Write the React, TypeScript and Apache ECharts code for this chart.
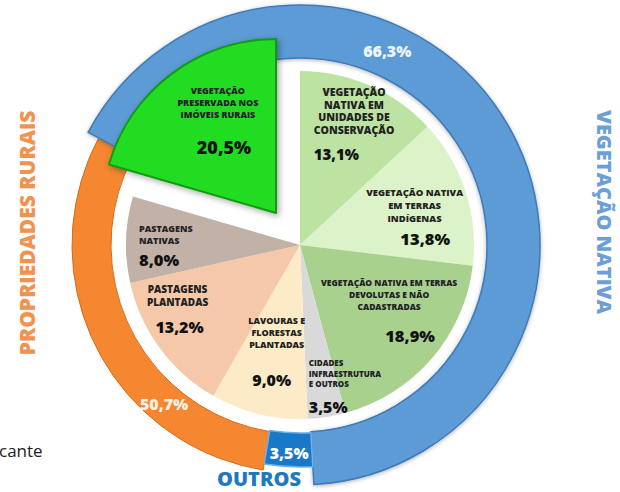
import { useEffect, useRef } from 'react';
import * as echarts from 'echarts';

// ---- data ----
const categories = [
  'VEGETAÇÃO\nNATIVA EM\nUNIDADES DE\nCONSERVAÇÃO',
  'VEGETAÇÃO NATIVA\nEM TERRAS\nINDÍGENAS',
  'VEGETAÇÃO NATIVA EM TERRAS\nDEVOLUTAS E NÃO\nCADASTRADAS',
  'CIDADES\nINFRAESTRUTURA\nE OUTROS',
  'LAVOURAS E\nFLORESTAS\nPLANTADAS',
  'PASTAGENS\nPLANTADAS',
  'PASTAGENS\nNATIVAS',
  'VEGETAÇÃO\nPRESERVADA NOS\nIMÓVEIS RURAIS',
];
const values = [13.1, 13.8, 18.9, 3.5, 9.0, 13.2, 8.0, 20.5];
const groupNames = ['VEGETAÇÃO NATIVA', 'OUTROS', 'PROPRIEDADES RURAIS'];
const groupValues = [66.3, 3.5, 50.7];
const sideTitles = ['PROPRIEDADES RURAIS', 'VEGETAÇÃO NATIVA', 'OUTROS'];
const footnote = 'cante';

// ---- styles ----
const sliceColors = ['#bde3a3', '#dcf2c8', '#a9d18e', '#d9d9d9', '#fdebc7', '#f5c8aa', '#c2b1a7', '#21dc21'];
const groupColors = ['#5b9bd5', '#1a78c8', '#f4872f'];
const FONT = '"Open Sans", "Noto Sans", sans-serif';
const CX = 300;
const CY = 245;
const titleSizes = [10.5, 9.5, 8.5, 8, 9, 10, 9, 9];
const titleLineH = [12.7, 13, 12, 10.5, 12, 13, 12, 12];
const valueSizes = [15, 16.5, 16.5, 16, 16, 16, 16.5, 18];
const valueLineH = [35, 27, 46, 35.5, 60, 37, 26, 54];
const blockAlign = ['center', 'center', 'center', 'left', 'center', 'center', 'left', 'center'];
const valueAlign = ['left', 'right', 'center', 'left', 'center', 'center', 'left', 'center'];
const valuePad = [[0, 0, 0, 0], [0, 13, 0, 0], [0, 0, 0, 42], [0, 0, 0, 0], [0, 10, 0, 0], [0, 0, 0, 4], [0, 0, 0, 0], [0, 0, 0, 12]];
const labelNudge = [[18, -34], [29, 2], [21, 14], [-5, 57], [-2, 30], [-50, 16], [-71, 5], [-4, -12]];
const ringStart = 152;

const fmt = (v: number) => v.toFixed(1).replace('.', ',') + '%';
const norm = (a: number) => ((a % 360) + 360) % 360;

export default function App() {
  const ref = useRef<HTMLDivElement>(null);
  useEffect(() => {
    const chart = echarts.init(ref.current!, null, { renderer: 'svg' });
    const rich: any = {};
    values.forEach((_, i) => {
      rich['t' + i] = {
        fontFamily: FONT, fontWeight: 800, fontSize: titleSizes[i], lineHeight: titleLineH[i],
        color: '#222222', align: blockAlign[i],
      };
      rich['v' + i] = {
        fontFamily: FONT, fontWeight: 800, fontSize: valueSizes[i], lineHeight: valueLineH[i],
        color: '#121212', align: valueAlign[i], padding: valuePad[i],
      };
    });
    const outrosStart = norm(ringStart - groupValues[0] * 3.6);
    const orangeStart = norm(outrosStart - groupValues[1] * 3.6);
    const blank = (v: number) => ({
      value: v, name: '', itemStyle: { color: 'rgba(0,0,0,0)', borderWidth: 0 }, label: { show: false },
    });
    const ringLabel = {
      show: true, position: 'inside', color: '#ffffff', fontFamily: FONT, fontWeight: 800, fontSize: 16,
      formatter: (p: any) => fmt(p.value),
    };
    chart.setOption({
      animation: false,
      backgroundColor: '#ffffff',
      series: [
        {
          type: 'pie', z: 1, silent: true, center: [CX, CY], radius: [189, 228],
          startAngle: orangeStart, clockwise: true, emphasis: { disabled: true },
          label: { ...ringLabel, color: '#fff1e4' }, labelLine: { show: false },
          labelLayout: (p: any) => (p.dataIndex === 0 ? { dx: 72, dy: 198 } : {}),
          data: [
            { value: groupValues[2], name: groupNames[2], itemStyle: { color: groupColors[2], borderColor: '#d8691d', borderWidth: 1 } },
            blank(100 - groupValues[2]),
          ],
        },
        {
          type: 'pie', z: 2, silent: true, center: [CX, CY], radius: [187, 240],
          startAngle: ringStart, clockwise: true, emphasis: { disabled: true },
          label: { ...ringLabel, color: '#eef5fc' }, labelLine: { show: false },
          labelLayout: (p: any) => (p.dataIndex === 0 ? { dx: -95, dy: -77 } : {}),
          data: [
            {
              value: groupValues[0], name: groupNames[0],
              itemStyle: { color: groupColors[0], borderColor: '#3f7ab8', borderWidth: 1.5, shadowBlur: 4, shadowColor: 'rgba(0,0,0,0.3)', shadowOffsetY: 1 },
            },
            blank(100 - groupValues[0]),
          ],
        },
        {
          type: 'pie', z: 3, silent: true, center: [CX, CY], radius: [188, 222],
          startAngle: outrosStart, clockwise: true, emphasis: { disabled: true },
          label: ringLabel, labelLine: { show: false },
          data: [
            { value: groupValues[1], name: groupNames[1], itemStyle: { color: groupColors[1], borderColor: '#6fb2ea', borderWidth: 1.5 } },
            blank(100 - groupValues[1]),
          ],
        },
        {
          type: 'pie', z: 4, silent: true, center: [CX, CY], radius: [0, 174],
          startAngle: 90, clockwise: true, emphasis: { disabled: true },
          selectedMode: 'single', selectedOffset: 40,
          select: { itemStyle: { color: sliceColors[7], borderColor: '#129a12', borderWidth: 2 } },
          avoidLabelOverlap: false,
          label: {
            show: true, position: 'inside', rich,
            formatter: (p: any) => {
              const i = p.dataIndex;
              const lines = categories[i].split('\n').map((l) => `{t${i}|${l}}`).join('\n');
              return `${lines}\n{v${i}|${fmt(values[i])}}`;
            },
          },
          labelLine: { show: false },
          labelLayout: (p: any) => ({
            dx: labelNudge[p.dataIndex][0], dy: labelNudge[p.dataIndex][1], align: blockAlign[p.dataIndex],
          }),
          data: values.map((v, i) => ({
            name: categories[i], value: v, selected: i === 7,
            itemStyle: i === 7
              ? { color: sliceColors[i], borderColor: '#129a12', borderWidth: 2, shadowBlur: 6, shadowColor: 'rgba(0,0,0,0.35)', shadowOffsetX: 2, shadowOffsetY: 2 }
              : { color: sliceColors[i] },
          })),
        },
      ],
      graphic: [
        {
          type: 'text', x: 27, y: 233, rotation: Math.PI / 2, silent: true,
          style: { text: sideTitles[0], fill: '#ef9350', fontFamily: FONT, fontWeight: 800, fontSize: 21, align: 'center', verticalAlign: 'middle' },
        },
        {
          type: 'text', x: 604, y: 212, rotation: -Math.PI / 2, silent: true,
          style: { text: sideTitles[1], fill: '#6b9fd6', fontFamily: FONT, fontWeight: 800, fontSize: 20, align: 'center', verticalAlign: 'middle' },
        },
        {
          type: 'text', x: 259, y: 478, silent: true,
          style: { text: sideTitles[2], fill: '#1f78c2', fontFamily: FONT, fontWeight: 800, fontSize: 20, align: 'center', verticalAlign: 'middle' },
        },
        {
          type: 'text', x: -1, y: 450, silent: true,
          style: { text: footnote, fill: '#222222', fontFamily: FONT, fontWeight: 400, fontSize: 17, align: 'left', verticalAlign: 'middle' },
        },
      ],
    });
    return () => chart.dispose();
  }, []);
  return <div ref={ref} style={{ position: 'absolute', left: 0, top: 0, width: 620, height: 492, background: '#fff' }} />;
}
